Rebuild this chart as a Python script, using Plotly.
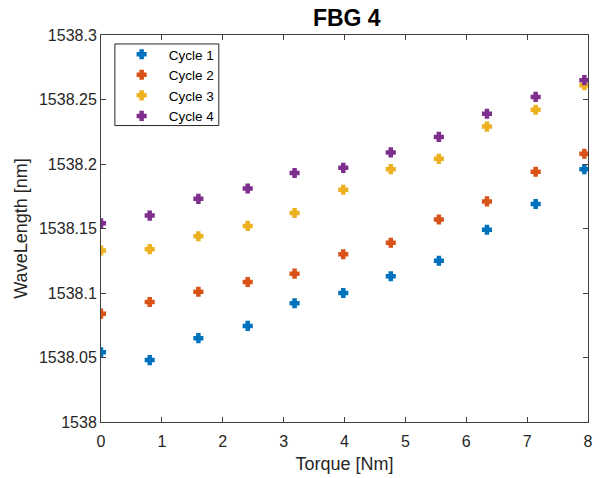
import plotly.graph_objects as go

# Torque steps [Nm]
torque = [0, 0.8, 1.6, 2.41, 3.18, 3.98, 4.76, 5.55, 6.34, 7.14, 7.94]

# Wavelength readings [nm] per loading cycle
cycle1 = [1538.054, 1538.048, 1538.065, 1538.0745, 1538.092, 1538.100,
          1538.113, 1538.125, 1538.149, 1538.169, 1538.196]
cycle2 = [1538.084, 1538.093, 1538.101, 1538.1085, 1538.115, 1538.130,
          1538.139, 1538.157, 1538.171, 1538.194, 1538.208]
cycle3 = [1538.133, 1538.134, 1538.144, 1538.152, 1538.162, 1538.180,
          1538.196, 1538.204, 1538.229, 1538.242, 1538.261]
cycle4 = [1538.154, 1538.160, 1538.173, 1538.181, 1538.193, 1538.197,
          1538.209, 1538.221, 1538.239, 1538.252, 1538.265]

names = ['Cycle 1', 'Cycle 2', 'Cycle 3', 'Cycle 4']
colors = ['#0072BD', '#D95319', '#EDB120', '#7E2F8E']

y_ticks = [1538, 1538.05, 1538.1, 1538.15, 1538.2, 1538.25, 1538.3]
y_ticktext = ['1538', '1538.05', '1538.1', '1538.15', '1538.2', '1538.25', '1538.3']
x_ticks = [0, 1, 2, 3, 4, 5, 6, 7, 8]

fig = go.Figure()
for name, vals, col in zip(names, [cycle1, cycle2, cycle3, cycle4], colors):
    fig.add_trace(go.Scatter(x=torque, y=vals, mode='markers', name=name,
                             marker=dict(symbol='cross', size=7, color=col,
                                         line=dict(width=1.7, color=col))))

axis_col = '#404040'
fig.update_layout(
    width=600, height=478,
    margin=dict(l=101, r=7, t=35, b=54),
    paper_bgcolor='white', plot_bgcolor='white',
    font=dict(family='Liberation Sans, Arial, sans-serif', size=16, color='#262626'),
    title=dict(text='<b>FBG 4</b>', x=0.578, xanchor='center', y=0.962, yanchor='middle',
               font=dict(size=23, color='black')),
    # legend text without its own frame; the frame is drawn as a shape below
    legend=dict(x=0.028, y=0.9897, xanchor='left', yanchor='top', itemwidth=44,
                bgcolor='rgba(0,0,0,0)', borderwidth=0,
                font=dict(size=13.5, color='black')),
)
fig.add_shape(type='rect', xref='paper', yref='paper',
              x0=0.0285, x1=0.2419, y0=0.766, y1=0.9769,
              line=dict(color='#262626', width=1), fillcolor='white', layer='below')
fig.update_xaxes(range=[0, 8], tickvals=x_ticks, showgrid=False, zeroline=False,
                 showline=True, linecolor=axis_col, linewidth=1, mirror='allticks',
                 ticks='inside', ticklen=5, tickcolor=axis_col, ticklabelstandoff=5,
                 title=dict(text='Torque [Nm]', font=dict(size=18), standoff=8))
fig.update_yaxes(range=[1538, 1538.3], tickvals=y_ticks, ticktext=y_ticktext,
                 showgrid=False, zeroline=False,
                 showline=True, linecolor=axis_col, linewidth=1, mirror='allticks',
                 ticks='inside', ticklen=5, tickcolor=axis_col,
                 title=dict(text='WaveLength [nm]', font=dict(size=18), standoff=6))

fig.write_html("out.html", config={'displayModeBar': False},
               post_script="document.body.style.margin='0';")
